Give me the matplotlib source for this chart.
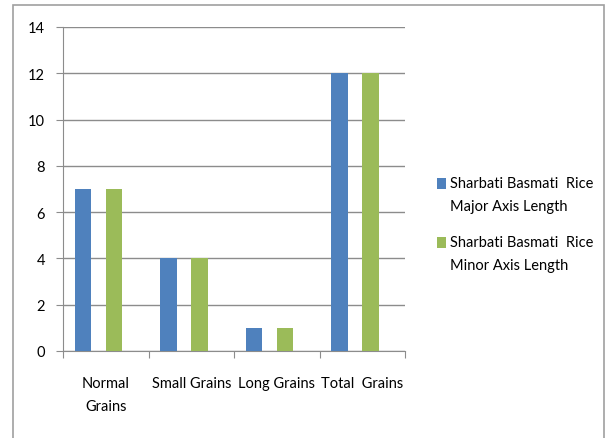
import matplotlib.pyplot as plt
import numpy as np
from matplotlib.patches import Rectangle
from matplotlib.container import BarContainer
from matplotlib.legend_handler import HandlerPatch

# Grain counts for Sharbati Basmati rice
categories = ["Normal\nGrains", "Small Grains", "Long Grains", "Total  Grains"]
major_axis = [7, 4, 1, 12]
minor_axis = [7, 4, 1, 12]
series_names = ["Sharbati Basmati  Rice\nMajor Axis Length",
                "Sharbati Basmati  Rice\nMinor Axis Length"]
blue = "#4F81BD"
green = "#9BBB59"

plt.rcParams["font.family"] = ["Lato", "DejaVu Sans"]

W, H = 607, 439
fig = plt.figure(figsize=(W / 100, H / 100), dpi=100)

# outer chart border
fig.patches.append(Rectangle((13 / W, -0.05), 591 / W, 1 - 6 / H + 0.05,
                             transform=fig.transFigure, fill=False,
                             edgecolor="#A0A0A0", linewidth=1.2))

ax = fig.add_axes([63 / W, 1 - 352 / H, (405 - 63) / W, (352 - 28) / H])
x = np.arange(len(categories))
w = 0.19
ax.bar(x - 0.266, major_axis, w, color=blue, label=series_names[0], zorder=3)
ax.bar(x + 0.096, minor_axis, w, color=green, label=series_names[1], zorder=3)

ax.set_xlim(-0.5, len(categories) - 0.5)
ax.set_ylim(0, 14)
ax.set_yticks(range(0, 15, 2))
ax.yaxis.grid(True, color="#8C8C8C", linewidth=1, zorder=0)
ax.set_xticks(np.arange(len(categories) + 1) - 0.5)
ax.set_xticklabels([])
ax.tick_params(axis="x", length=5, color="#8C8C8C", direction="out")
ax.tick_params(axis="y", length=5, color="#8C8C8C", labelsize=10.5, pad=8)
for s in ["top", "right"]:
    ax.spines[s].set_visible(False)
for s in ["left", "bottom"]:
    ax.spines[s].set_color("#8C8C8C")

# category labels, set a bit below the axis
for i, lab in enumerate(categories):
    ax.text(i, -0.076, lab, transform=ax.get_xaxis_transform(),
            ha="center", va="top", fontsize=10.5, linespacing=1.85)


# legend square sits on the first text line
def top_square(legend, orig_handle, xdescent, ydescent, width, height, fontsize):
    s = 0.75 * fontsize
    return Rectangle((-xdescent, -ydescent + height - s + 0.8 * fontsize), width, s)


def from_bars(legend_handle, orig_handle):
    legend_handle.update_from(orig_handle.patches[0])


leg = ax.legend(loc="center left", bbox_to_anchor=(424 / W, 1 - 225 / H),
                bbox_transform=fig.transFigure, frameon=False, fontsize=10.5,
                handlelength=0.6, handleheight=0.8, handletextpad=0.25,
                labelspacing=1.5,
                handler_map={BarContainer: HandlerPatch(patch_func=top_square,
                                                        update_func=from_bars)})
for t in leg.get_texts():
    t.set_linespacing(1.85)

fig.savefig("out.png", dpi=100)
